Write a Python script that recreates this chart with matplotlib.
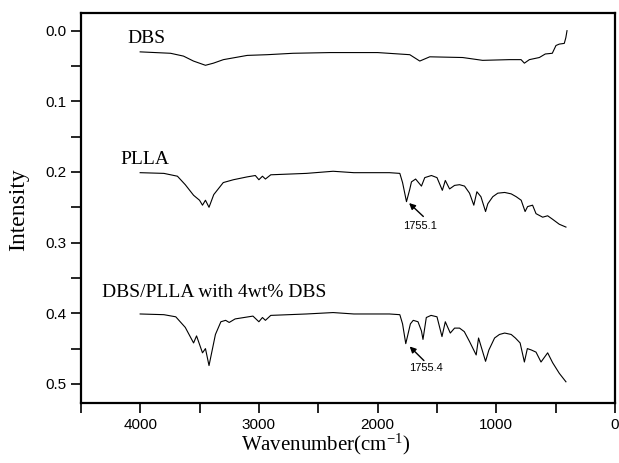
import matplotlib
matplotlib.use("Agg")
import matplotlib.pyplot as plt
from matplotlib.ticker import MultipleLocator, FuncFormatter

plt.rcParams["mathtext.fontset"] = "stix"

# spectra (wavenumber in cm-1, intensity)
dbs_x = [4000, 3744, 3635, 3551, 3450, 3383, 3299, 3098, 2930, 2712, 2400, 2000,
         1729, 1645, 1561, 1284, 1116, 890, 792, 764, 722, 638, 588, 529, 498,
         470, 428, 415, 405]
dbs_y = [0.030, 0.032, 0.036, 0.043, 0.049, 0.046, 0.041, 0.035, 0.034, 0.032, 0.031, 0.031,
         0.034, 0.043, 0.037, 0.038, 0.042, 0.041, 0.041, 0.046, 0.041, 0.038, 0.033, 0.032, 0.021,
         0.019, 0.018, 0.010, 0.000]

plla_x = [4000, 3800, 3686, 3620, 3550, 3500, 3475, 3450, 3420, 3380, 3300, 3215, 3100,
          3030, 3000, 2970, 2945, 2900, 2600, 2375, 2200, 1900, 1813, 1790, 1757, 1730,
          1715, 1680, 1631, 1603, 1547, 1500, 1455, 1430, 1394, 1352, 1310, 1268, 1226,
          1190, 1164, 1130, 1091, 1072, 1030, 988, 930, 875, 833, 791, 758, 737, 695,
          666, 610, 568, 526, 470, 414]
plla_y = [0.201, 0.202, 0.206, 0.218, 0.233, 0.240, 0.247, 0.240, 0.250, 0.232, 0.215, 0.211, 0.207,
          0.205, 0.211, 0.206, 0.210, 0.204, 0.202, 0.199, 0.201, 0.201, 0.202, 0.215, 0.242, 0.225,
          0.214, 0.210, 0.220, 0.208, 0.205, 0.208, 0.226, 0.212, 0.224, 0.219, 0.218, 0.220, 0.230,
          0.247, 0.228, 0.235, 0.256, 0.245, 0.235, 0.230, 0.229, 0.231, 0.235, 0.240, 0.256, 0.249, 0.247,
          0.259, 0.264, 0.262, 0.267, 0.274, 0.278]

mix_x = [4000, 3800, 3700, 3620, 3550, 3525, 3475, 3450, 3420, 3366, 3320, 3280, 3250,
         3200, 3050, 3000, 2970, 2945, 2900, 2600, 2375, 2200, 1900, 1813, 1790, 1763,
         1724, 1700, 1660, 1631, 1618, 1590, 1550, 1500, 1458, 1430, 1388, 1352, 1310,
         1270, 1226, 1170, 1150, 1091, 1063, 1015, 974, 930, 875, 840, 800, 764, 739,
         705, 666, 624, 568, 526, 470, 414]
mix_y = [0.401, 0.402, 0.405, 0.420, 0.442, 0.432, 0.456, 0.450, 0.474, 0.430, 0.412, 0.410, 0.413,
         0.408, 0.404, 0.412, 0.406, 0.410, 0.403, 0.401, 0.399, 0.401, 0.401, 0.402, 0.415, 0.443,
         0.415, 0.410, 0.412, 0.425, 0.437, 0.406, 0.403, 0.405, 0.433, 0.412, 0.428, 0.421, 0.421,
         0.426, 0.440, 0.459, 0.435, 0.468, 0.452, 0.435, 0.430, 0.428, 0.430, 0.435, 0.442, 0.469, 0.450,
         0.452, 0.455, 0.469, 0.456, 0.470, 0.485, 0.497]

names = ["DBS", "PLLA", "DBS/PLLA with 4wt% DBS"]
name_pos = [(4105, 0.011), (4165, 0.183), (4320, 0.371)]
peak_labels = ["1755.1", "1755.4"]
peak_text_pos = [(1645, 0.277), (1590, 0.477)]
peak_arrow_tail = [(1615, 0.263), (1610, 0.467)]
peak_arrow_tip = [(1735, 0.244), (1730, 0.447)]

serif = ["Liberation Serif", "DejaVu Serif"]
sans = ["Liberation Sans", "DejaVu Sans"]

fig = plt.figure(figsize=(6.19, 4.63), dpi=100)
ax = fig.add_axes([0.1305, 0.1296, 0.8632, 0.8423])

for xs, ys in [(dbs_x, dbs_y), (plla_x, plla_y), (mix_x, mix_y)]:
    ax.plot(xs, ys, color="black", lw=0.8)

for name, (tx, ty) in zip(names, name_pos):
    ax.text(tx, ty, name, family=serif, fontsize=14, ha="left", va="center")

for lab, tp, tail, tip in zip(peak_labels, peak_text_pos, peak_arrow_tail, peak_arrow_tip):
    ax.text(tp[0], tp[1], lab, family=sans, fontsize=8, ha="center", va="center")
    ax.annotate("", xy=tip, xytext=tail,
                arrowprops=dict(arrowstyle="-|>", color="black", lw=1.0, mutation_scale=9,
                                shrinkA=0, shrinkB=0))

ax.set_xlim(4500, 0)
ax.set_ylim(0.527, -0.025)
ax.xaxis.set_major_locator(MultipleLocator(500))
ax.yaxis.set_major_locator(MultipleLocator(0.05))
ax.xaxis.set_major_formatter(FuncFormatter(lambda v, p: "%d" % round(v) if round(v) % 1000 == 0 else ""))
ax.yaxis.set_major_formatter(FuncFormatter(lambda v, p: "%.1f" % v if abs(v * 10 - round(v * 10)) < 1e-6 else ""))
ax.tick_params(direction="out", length=7, width=1.2, labelsize=11, top=False, right=False)
for lbl in ax.get_xticklabels() + ax.get_yticklabels():
    lbl.set_family(sans)
for s in ax.spines.values():
    s.set_linewidth(1.6)
    s.set_visible(True)

ax.set_xlabel("Wavenumber(cm$^{\\mathregular{-1}}$)", family=serif, fontsize=15)
ax.set_ylabel("Intensity", family=serif, fontsize=17)
ax.xaxis.set_label_coords((326 - 80) / 536, -0.072)
ax.yaxis.set_label_coords(-0.097, (403 - 210) / 390)

fig.savefig("out.png", dpi=100)
